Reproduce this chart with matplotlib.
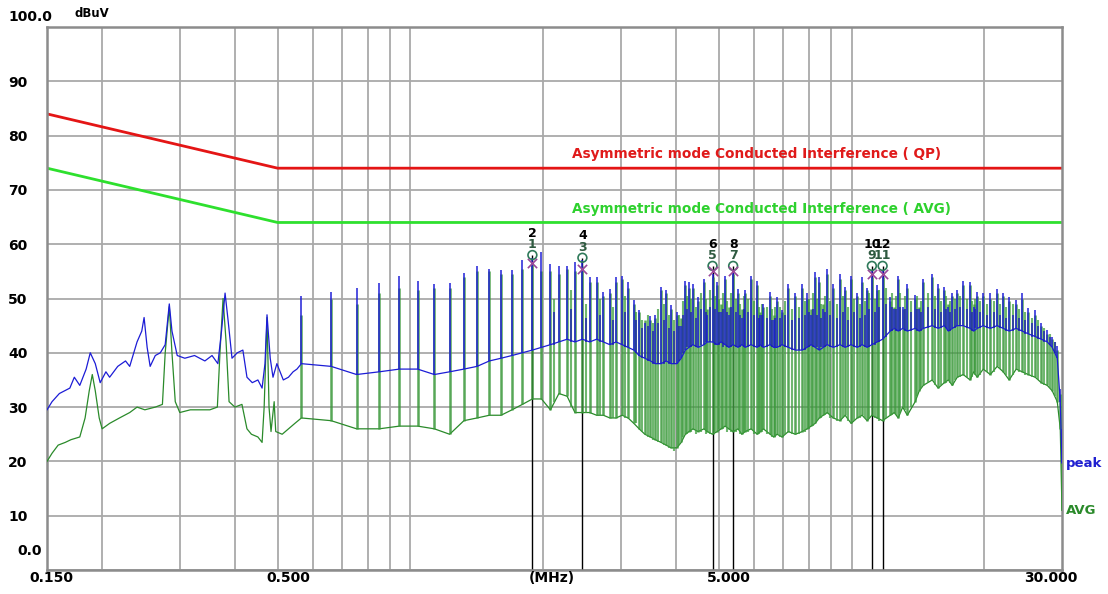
import matplotlib
matplotlib.use("Agg")
import matplotlib.pyplot as plt
from matplotlib.ticker import FixedLocator, NullLocator

# limit lines (MHz, dBuV)
limit_mhz = [0.15, 0.5, 30.0]
qp_limit = [84.0, 74.0, 74.0]
avg_limit = [74.0, 64.0, 64.0]

# low band sweep 0.15 - 0.55 MHz
low_peak_mhz = [0.150, 0.154, 0.160, 0.169, 0.173, 0.178, 0.184, 0.188, 0.193, 0.198,
                0.204, 0.208, 0.217, 0.226, 0.231, 0.240, 0.246, 0.249, 0.253, 0.257,
                0.264, 0.271, 0.278, 0.284, 0.288, 0.296, 0.308, 0.324, 0.342, 0.355,
                0.366, 0.373, 0.380, 0.386, 0.394, 0.405, 0.417, 0.426, 0.438, 0.451,
                0.461, 0.468, 0.473, 0.481, 0.488, 0.498, 0.515, 0.529, 0.542, 0.553]
low_peak_dbuv = [29.5, 31.0, 32.5, 33.5, 35.5, 34.0, 37.0, 40.0, 38.0, 34.5,
                 36.5, 35.5, 37.5, 38.5, 37.5, 42.0, 44.0, 46.5, 41.0, 37.5,
                 39.5, 40.0, 41.5, 49.0, 44.0, 39.5, 39.0, 39.5, 38.5, 39.5,
                 38.0, 44.0, 51.0, 46.0, 39.0, 40.0, 40.5, 35.5, 34.5, 35.0,
                 33.5, 38.0, 47.0, 39.0, 35.5, 38.0, 35.0, 35.5, 36.5, 37.0]
low_avg_mhz = [0.150, 0.154, 0.159, 0.165, 0.170, 0.178, 0.183, 0.187, 0.190, 0.193,
               0.197, 0.200, 0.208, 0.219, 0.231, 0.240, 0.250, 0.264, 0.274, 0.278,
               0.284, 0.288, 0.293, 0.300, 0.317, 0.333, 0.351, 0.365, 0.370, 0.376,
               0.382, 0.388, 0.400, 0.415, 0.426, 0.436, 0.451, 0.461, 0.466, 0.473,
               0.478, 0.483, 0.491, 0.495, 0.512, 0.529, 0.547]
low_avg_dbuv = [20.0, 21.5, 23.0, 23.5, 24.0, 24.5, 28.0, 33.0, 36.0, 33.0,
                28.0, 26.0, 27.0, 28.0, 29.0, 30.0, 29.5, 30.0, 30.5, 40.0,
                48.5, 40.0, 31.0, 29.0, 29.5, 29.5, 29.5, 30.0, 40.0, 50.0,
                42.0, 31.0, 30.0, 30.5, 26.0, 25.0, 24.5, 23.5, 30.0, 46.5,
                30.0, 25.5, 31.0, 25.5, 25.0, 26.0, 27.0]

# spike band 0.56 - 30 MHz: spike frequency, peak top/base, avg top/base
spike_mhz = [0.566, 0.661, 0.755, 0.850, 0.944, 1.038, 1.133, 1.227, 1.322, 1.416,
             1.510, 1.605, 1.699, 1.794, 1.890, 1.982,
             2.077, 2.171, 2.266, 2.360, 2.454, 2.549, 2.643, 2.738, 2.832, 2.926,
             3.020, 3.115, 3.210, 3.300, 3.400, 3.500, 3.590, 3.700, 3.800, 3.900,
             4.020, 4.110, 4.200, 4.280, 4.370, 4.490, 4.630, 4.710, 4.840, 4.960,
             5.060, 5.170, 5.270, 5.390, 5.530, 5.640, 5.740, 5.920, 6.110, 6.210,
             6.310, 6.540, 6.660, 6.780, 6.960, 7.190, 7.460,
             7.73, 7.93, 8.10, 8.27, 8.45, 8.63, 8.81, 9.09, 9.42, 9.67,
             9.98, 10.30, 10.57, 10.85, 11.12, 11.43, 11.76, 12.24, 12.50, 12.76,
             13.06, 13.38, 13.94, 14.24, 14.54, 15.24, 15.72, 16.23, 16.58, 16.92,
             17.36, 17.91, 18.57, 18.92, 19.27, 19.89, 20.63, 21.39, 22.08, 22.77,
             23.62, 24.37, 25.15, 26.09, 26.92, 27.78, 28.51, 29.27, 29.73, 30.00]
peak_top = [50.5, 51.2, 52.0, 52.8, 54.2, 53.2, 52.7, 52.8, 54.7, 55.9,
            55.5, 55.2, 55.3, 57.0, 57.5, 58.5,
            56.4, 56.0, 56.0, 56.7, 57.0, 54.0, 54.0, 51.2, 51.8, 54.0,
            54.2, 53.0, 49.7, 47.9, 45.5, 46.7, 47.0, 52.2, 51.5, 48.8,
            47.6, 45.0, 53.3, 53.0, 52.7, 50.3, 53.6, 47.0, 54.5, 53.0,
            47.5, 54.2, 47.0, 55.0, 51.8, 46.5, 51.5, 54.2, 53.3, 47.0,
            49.0, 51.2, 46.0, 50.3, 47.9, 52.7, 51.0,
            52.7, 51.0, 47.0, 54.8, 54.0, 48.0, 55.5, 52.7, 54.5, 52.1,
            54.2, 51.0, 54.0, 52.0, 55.0, 52.4, 55.0, 50.3, 48.0, 54.2,
            48.5, 52.7, 50.6, 48.0, 53.6, 54.5, 52.7, 52.1, 48.5, 51.0,
            51.5, 53.3, 53.0, 48.5, 51.2, 51.0, 51.0, 51.8, 51.0, 50.3,
            49.7, 51.0, 48.2, 47.9, 45.5, 44.2, 43.0, 41.2, 33.3, 26.0]
peak_base = [38.0, 37.5, 36.0, 36.5, 37.0, 37.0, 36.0, 36.5, 37.0, 37.5,
             38.5, 39.0, 39.5, 40.0, 40.5, 41.0,
             41.5, 42.0, 42.5, 42.0, 42.5, 42.0, 42.5, 42.0, 41.5, 42.0,
             41.5, 41.0, 40.5, 39.5, 39.0, 38.5, 38.0, 38.0, 38.5, 38.0,
             38.0, 39.0, 40.5, 41.0, 41.5, 41.0, 41.5, 42.0, 42.0, 41.5,
             42.0, 41.5, 41.0, 41.5, 41.0, 41.5, 41.0, 41.5, 41.0, 41.5,
             41.0, 41.5, 41.0, 41.0, 41.5, 41.0, 40.5,
             40.5, 41.0, 41.5, 41.0, 40.5, 41.0, 41.5, 41.0, 41.5, 41.0,
             41.5, 41.0, 41.5, 41.0, 41.5, 42.0, 42.5, 44.0, 44.5, 44.0,
             44.5, 44.0, 44.5, 44.0, 44.5, 45.0, 44.5, 45.0, 44.0, 44.5,
             45.0, 45.0, 44.5, 44.0, 44.5, 45.0, 44.5, 45.0, 44.5, 44.0,
             44.5, 44.0, 43.5, 43.0, 42.5, 42.0, 41.0, 39.0, 31.0, 19.7]
avg_top = [47.0, 50.0, 49.0, 51.0, 52.0, 51.5, 52.0, 52.0, 54.0, 55.0,
           55.0, 54.5, 54.5, 55.5, 56.5, 55.0,
           55.0, 54.5, 55.5, 55.0, 56.0, 53.0, 53.0, 50.5, 51.0, 53.0,
           53.5, 52.0, 49.0, 47.5, 46.0, 46.0, 46.5, 51.5, 51.0, 48.0,
           47.0, 46.5, 52.5, 52.0, 52.0, 49.5, 53.0, 48.0, 54.0, 52.5,
           49.0, 53.5, 48.5, 54.5, 51.0, 48.0, 51.0, 53.5, 52.5, 47.5,
           48.5, 50.5, 47.0, 49.5, 47.5, 52.0, 50.5,
           52.0, 50.0, 48.0, 54.0, 53.0, 49.0, 54.5, 52.0, 53.5, 51.5,
           53.5, 50.5, 53.0, 51.5, 54.0, 51.5, 54.0, 49.5, 48.5, 53.5,
           48.0, 52.0, 50.0, 48.5, 53.0, 54.0, 52.0, 51.5, 49.0, 50.5,
           51.0, 52.5, 52.5, 49.0, 50.5, 50.5, 50.0, 51.0, 50.5, 49.5,
           49.0, 50.0, 47.5, 47.0, 45.0, 43.5, 42.5, 40.5, 32.5, 21.0]
avg_base = [28.0, 27.5, 26.0, 26.0, 26.5, 26.5, 26.0, 25.0, 27.5, 28.0,
            28.5, 28.5, 29.5, 30.5, 31.5, 31.5,
            29.5, 32.5, 32.0, 29.0, 29.0, 29.0, 28.5, 28.5, 28.0, 28.0,
            28.5, 28.0, 27.0, 26.0, 25.0, 24.5, 24.0, 23.5, 23.0, 22.5,
            22.5, 23.5, 25.0, 25.5, 26.0, 25.5, 26.0, 25.5, 25.0, 25.5,
            26.0, 26.5, 26.0, 25.5, 26.0, 25.0, 25.5, 26.0, 25.0, 25.5,
            26.0, 25.0, 24.5, 25.0, 24.5, 25.5, 25.0,
            25.5, 26.0, 26.5, 27.0, 28.0, 28.5, 29.0, 28.0, 27.5, 28.5,
            27.0, 28.0, 28.5, 27.5, 28.5, 28.0, 27.5, 28.5, 29.0, 28.0,
            30.0, 28.5, 31.0, 33.0, 34.0, 35.0, 33.5, 34.5, 35.0, 34.0,
            35.5, 36.0, 35.0, 36.5, 35.5, 37.0, 36.0, 37.5, 36.5, 35.0,
            37.0, 36.5, 36.0, 35.5, 34.5, 34.0, 33.0, 31.0, 26.0, 11.0]

# smaller spikes in between the main ones (2 - 29 MHz)
fill_mhz = [2.12, 2.31, 2.50, 2.69, 2.88, 3.07, 3.25,
            3.35, 3.45, 3.545, 3.645, 3.75, 3.85, 3.96, 4.065, 4.155, 4.24,
            4.325, 4.43, 4.56, 4.67, 4.775, 4.90, 5.01, 5.115, 5.22, 5.33,
            5.46, 5.585, 5.69, 5.83, 6.01, 6.16, 6.26, 6.42, 6.60, 6.72,
            6.87, 7.07, 7.32, 7.60,
            7.83, 8.02, 8.19, 8.36, 8.54, 8.72, 8.95, 9.25, 9.55, 9.82,
            10.14, 10.43, 10.71, 10.98, 11.28, 11.57, 11.97, 12.37, 12.63, 12.91,
            13.22, 13.66, 14.09, 14.39, 14.89, 15.48, 15.97, 16.40, 16.75, 17.14,
            17.63, 18.24, 18.74, 19.09, 19.58, 20.26, 21.01, 21.73, 22.42, 23.19,
            23.99, 24.76, 25.62, 26.50, 27.35, 28.15, 28.90]
fill_peak_top = [47.5, 48.0, 46.5, 47.0, 46.0, 47.5, 46.0,
                 44.5, 45.0, 44.0, 45.5, 46.0, 44.5, 44.0, 45.0, 47.0, 48.0,
                 47.5, 46.5, 48.0, 47.5, 48.5, 48.0, 47.5, 48.0, 47.5, 48.5,
                 47.5, 47.0, 48.0, 47.5, 47.0, 46.5, 47.0, 46.5, 46.0, 46.5,
                 46.5, 47.0, 46.0, 46.5,
                 47.0, 47.5, 48.0, 47.0, 46.5, 47.5, 47.0, 46.5, 47.5, 46.0,
                 47.5, 46.5, 47.0, 48.0, 47.5, 48.5, 49.0, 48.5, 48.0, 48.5,
                 48.0, 47.5, 48.0, 47.5, 48.5, 48.0, 47.5, 48.0, 47.5, 48.0,
                 48.5, 48.0, 47.5, 48.0, 47.5, 47.0, 47.5, 47.0, 46.5, 47.0,
                 46.5, 46.0, 45.5, 45.0, 44.0, 43.0, 42.0]
fill_peak_base = [41.5, 42.0, 42.0, 42.0, 41.5, 41.0, 40.0,
                  39.0, 38.5, 38.0, 38.0, 38.0, 38.0, 38.0, 38.5, 40.0, 41.0,
                  41.0, 41.0, 41.5, 42.0, 42.0, 41.5, 41.5, 41.0, 41.0, 41.0,
                  41.0, 41.0, 41.0, 41.0, 41.0, 41.0, 41.0, 41.0, 41.0, 41.0,
                  41.0, 41.0, 40.5, 40.5,
                  40.5, 41.0, 41.0, 41.0, 41.0, 41.0, 41.0, 41.0, 41.0, 41.0,
                  41.0, 41.0, 41.0, 41.0, 41.5, 42.0, 43.0, 44.0, 44.0, 44.0,
                  44.0, 44.0, 44.0, 44.0, 44.5, 44.5, 44.5, 44.5, 44.0, 44.5,
                  45.0, 44.5, 44.0, 44.5, 44.5, 44.5, 44.5, 44.5, 44.0, 44.0,
                  44.0, 43.5, 43.0, 42.5, 42.0, 41.5, 40.0]
fill_avg_top = [50.0, 51.5, 49.0, 50.0, 48.5, 50.5, 47.5,
                46.0, 47.0, 45.5, 48.0, 49.0, 47.0, 46.0, 47.0, 49.5, 50.5,
                50.0, 48.5, 51.0, 50.0, 51.5, 50.5, 50.0, 51.0, 49.5, 51.0,
                50.0, 49.0, 50.5, 50.0, 49.5, 48.5, 49.0, 48.5, 48.0, 48.5,
                48.5, 49.5, 48.0, 48.5,
                49.5, 50.0, 51.0, 50.0, 49.0, 50.5, 49.5, 49.0, 50.5, 48.5,
                50.0, 49.0, 49.5, 51.0, 50.0, 51.5, 52.0, 51.0, 50.5, 51.0,
                50.5, 49.5, 50.5, 49.5, 51.0, 50.5, 49.5, 50.5, 49.5, 50.0,
                50.5, 50.0, 49.5, 50.0, 49.5, 49.0, 49.5, 49.0, 48.5, 49.0,
                48.0, 47.5, 46.5, 46.0, 44.5, 43.5, 42.0]
fill_avg_base = [31.0, 30.0, 29.0, 28.5, 28.0, 28.0, 27.0,
                 25.5, 24.5, 24.0, 23.5, 23.0, 22.5, 22.0, 23.0, 24.5, 25.0,
                 25.5, 25.0, 25.5, 25.0, 25.0, 25.5, 26.0, 26.0, 25.5, 25.5,
                 25.5, 25.0, 25.5, 25.5, 25.0, 25.0, 25.5, 25.0, 24.5, 24.5,
                 24.5, 25.0, 25.0, 25.0,
                 25.5, 26.0, 26.5, 27.5, 28.0, 28.5, 28.0, 27.5, 28.0, 27.5,
                 27.5, 28.0, 28.0, 28.0, 28.0, 27.5, 28.0, 28.5, 28.5, 29.0,
                 29.5, 30.0, 32.0, 33.5, 34.5, 34.0, 34.0, 34.5, 34.5, 35.0,
                 35.5, 35.5, 35.5, 36.0, 36.0, 36.5, 36.5, 37.0, 36.0, 36.0,
                 36.5, 36.0, 35.5, 35.0, 34.0, 33.5, 32.0]

# final scan markers: odd numbers (circle) and even numbers (cross)
marker_mhz = [1.89, 2.454, 4.84, 5.39, 11.12, 11.76]
marker_odd = [58.0, 57.5, 56.0, 56.0, 56.0, 56.0]
marker_even = [56.5, 55.5, 55.0, 55.0, 54.5, 54.5]

grid_mhz = [0.2, 0.3, 0.4, 0.5, 0.6, 0.7, 0.8, 0.9, 1, 2, 3, 4, 5, 6, 7, 8, 9, 10, 20]

assert len(spike_mhz) == len(peak_top) == len(peak_base) == len(avg_top) == len(avg_base)
assert len(fill_mhz) == len(fill_peak_top) == len(fill_peak_base) == len(fill_avg_top) == len(fill_avg_base)

BLUE = "#1c1cd6"
GREEN = "#2a8a2a"
bold = dict(fontweight="bold", fontfamily="DejaVu Sans")

fig = plt.figure(figsize=(11.08, 5.94), dpi=100)
ax = fig.add_axes([47 / 1108, 24 / 594, 1015 / 1108, 543 / 594])
ax.set_xscale("log")
ax.set_xlim(0.15, 30)
ax.set_ylim(0, 100)

ax.xaxis.set_major_locator(FixedLocator(grid_mhz))
ax.xaxis.set_minor_locator(NullLocator())
ax.set_xticklabels([])
ax.set_yticks(range(0, 101, 10))
ax.set_yticklabels([""] + [str(v) for v in range(10, 100, 10)] + [""])
ax.tick_params(axis="both", length=0)
ax.tick_params(axis="y", pad=28, labelsize=10)
for lbl in ax.get_yticklabels():
    lbl.set_horizontalalignment("left")
    lbl.set_fontweight("bold")
ax.grid(True, color="#a9a9a9", lw=1.3)
ax.set_axisbelow(True)
for sp in ax.spines.values():
    sp.set_color("#8c8c8c")
    sp.set_linewidth(1.8)

# marker stems
ax.vlines(marker_mhz, 0, marker_odd, color="black", lw=1.0, zorder=1.5)

# limits
ax.plot(limit_mhz, qp_limit, color="#e41515", lw=2.0, zorder=2)
ax.plot(limit_mhz, avg_limit, color="#2ee02e", lw=2.0, zorder=2)
ax.text(0.517, 76.6, "Asymmetric mode Conducted Interference ( QP)", transform=ax.get_yaxis_transform(),
        color="#e01a1a", fontsize=9.8, va="center", ha="left", **bold)
ax.text(0.517, 66.5, "Asymmetric mode Conducted Interference ( AVG)", transform=ax.get_yaxis_transform(),
        color="#2ed12e", fontsize=9.8, va="center", ha="left", **bold)

# AVG trace
ax.plot(low_avg_mhz + spike_mhz, low_avg_dbuv + avg_base, color=GREEN, lw=0.9, zorder=3)
ax.vlines(fill_mhz, fill_avg_base, fill_avg_top, color="#3f9f3f", lw=1.5, alpha=0.75, zorder=3)
ax.vlines(spike_mhz, avg_base, avg_top, color="#3a983a", lw=1.8, alpha=0.85, zorder=3)
# peak trace
ax.plot(low_peak_mhz + spike_mhz, low_peak_dbuv + peak_base, color=BLUE, lw=0.9, zorder=4)
ax.vlines(fill_mhz, fill_peak_base, fill_peak_top, color="#1818b8", lw=1.2, alpha=0.85, zorder=4)
ax.vlines(spike_mhz, peak_base, peak_top, color=BLUE, lw=1.2, alpha=0.9, zorder=4)

# markers
ax.scatter(marker_mhz, marker_odd, s=40, facecolors="none", edgecolors="#2f7a5a", lw=1.2, zorder=5)
ax.scatter(marker_mhz, marker_even, s=45, marker="x", color="#9a4a9a", lw=1.2, zorder=5)
for i, f in enumerate(marker_mhz):
    ax.annotate(str(2 * i + 1), (f, marker_odd[i]), xytext=(0, 3), textcoords="offset points",
                ha="center", va="bottom", fontsize=9, color="#2f5a40", zorder=6, **bold)
    ax.annotate(str(2 * i + 2), (f, marker_odd[i]), xytext=(0, 11), textcoords="offset points",
                ha="center", va="bottom", fontsize=9, color="black", zorder=6, **bold)

# axis texts
xlabels = [(0.15, "0.150", 3.5), (0.5, "0.500", 8), (5.0, "5.000", 7), (30.0, "30.000", -8)]
for f, s, dx in xlabels:
    ax.annotate(s, (f, 0), xycoords=("data", "axes fraction"), xytext=(dx, -6),
                textcoords="offset points", ha="center", va="center", fontsize=10, **bold)
ax.annotate("(MHz)", (0.497, 0), xycoords="axes fraction", xytext=(0, -6),
            textcoords="offset points", ha="center", va="center", fontsize=10, **bold)
ax.annotate("100.0", (0, 1), xycoords="axes fraction", xytext=(-28, 7),
            textcoords="offset points", ha="left", va="center", fontsize=10, **bold)
ax.annotate("0.0", (0, 0), xycoords="axes fraction", xytext=(-21, 14),
            textcoords="offset points", ha="left", va="center", fontsize=10, **bold)
ax.annotate("dBuV", (0, 1), xycoords="axes fraction", xytext=(20, 10),
            textcoords="offset points", ha="left", va="center", fontsize=8.5, **bold)
ax.annotate("peak", (1, 19.7), xycoords=("axes fraction", "data"), xytext=(3, 0),
            textcoords="offset points", ha="left", va="center", fontsize=9.5, color="#2020d0", **bold)
ax.annotate("AVG", (1, 10.9), xycoords=("axes fraction", "data"), xytext=(3, 0),
            textcoords="offset points", ha="left", va="center", fontsize=9.5, color=GREEN, **bold)

fig.savefig("out.png", dpi=100, facecolor="white")
